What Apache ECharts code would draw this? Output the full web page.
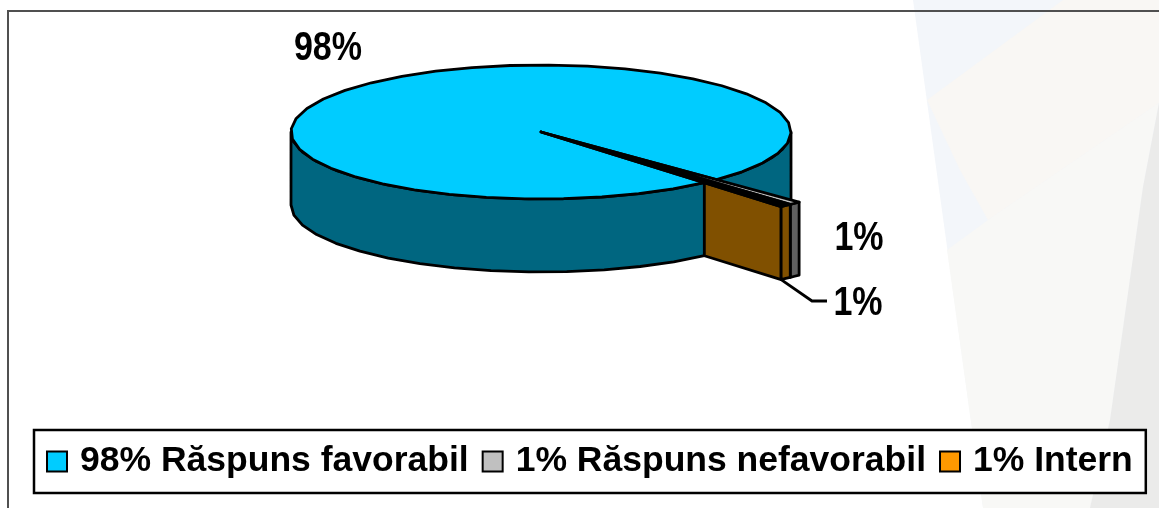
<!DOCTYPE html>
<html>
<head>
<meta charset="utf-8">
<style>
  html, body { margin: 0; padding: 0; background: #fff; }
  #chart { width: 1159px; height: 508px; }
</style>
<script src="https://cdn.jsdelivr.net/npm/echarts@6/dist/echarts.min.js"></script>
</head>
<body>
<div id="chart"></div>
<script>
var names = ['Răspuns favorabil', 'Răspuns nefavorabil', 'Intern'];
var values = [98, 1, 1];

var legendColors = ['#00ccff', '#c0c0c0', '#ff9900'];
var topColors = ['#00ccff', '#c0c0c0', '#000'];   // orange top is too thin to show, it reads as black
var wallColors = ['#006680', '#606060', '#805000'];

// ellipse of the pie, in pixels
var cx = 541, cy = 132, rx = 250, ry = 67, depth = 73;
var firstAngle = 49.2;   // where the big slice starts, clockwise from east
var sliver = 0.53;       // the small slices are drawn thinner than their real share
var explode = 1.47;      // small slices stick out of the rim

function sweep(i) {
  var small = 0;
  for (var n = 1; n < values.length; n++) small += values[n] * 3.6 * sliver;
  return i == 0 ? 360 - small : values[i] * 3.6 * sliver;
}
function startOf(i) {
  var a = firstAngle;
  for (var n = 0; n < i; n++) a += sweep(n);
  return a;
}
function pt(deg, r, down) {
  var t = deg * Math.PI / 180;
  return [cx + rx * r * Math.cos(t), cy + ry * r * Math.sin(t) + (down || 0)];
}
function arc(a, b, r, down) {
  // coarse steps, the original outline is faceted too
  var pts = [], steps = Math.max(2, Math.ceil(Math.abs(b - a) / 9));
  for (var n = 0; n <= steps; n++) pts.push(pt(a + (b - a) * n / steps, r, down));
  return pts;
}
function poly(points, fill, z) {
  return {
    type: 'polygon', z2: z,
    shape: { points: points },
    style: { fill: fill, stroke: '#000', lineWidth: 2.8, lineJoin: 'round' }
  };
}
function wall(a, b, r, fill, z) {
  return poly(arc(a, b, r, 0).concat(arc(a, b, r, depth).reverse()), fill, z);
}
function label(text, x, y) {
  // the picture is stretched upwards, so the glyphs are squeezed sideways
  return {
    type: 'text', z2: 20, x: x, y: y, scaleX: 0.83,
    style: { text: text, x: 0, y: 0, align: 'center', verticalAlign: 'middle',
      font: 'bold 41px "Liberation Sans", Arial, sans-serif', fill: '#000' }
  };
}

function renderSlice(params, api) {
  var i = params.seriesIndex;
  var a = startOf(i), b = a + sweep(i);
  var kids = [];
  if (i == 0) {
    // only the front half of the side wall can be seen
    kids.push(wall(firstAngle, 180, 1, wallColors[0], 1));
    kids.push(wall(0, b - 360, 1, wallColors[0], 1));
    kids.push(poly([[cx, cy]].concat(arc(a, b, 1, 0)), topColors[0], 2));
    kids.push(label(api.value(0) + '%', 328, 49));
  } else {
    var from = a % 360, to = b % 360;
    kids.push(wall(from, to, explode, wallColors[i], 5));
    // cut face of the slice, from the rim outwards
    var inner = pt(firstAngle, 1), outer = pt(firstAngle, explode);
    if (i == 2) {
      kids.push(poly([inner, outer, pt(firstAngle, explode, depth), pt(firstAngle, 1, depth)], wallColors[2], 4));
      kids.push({
        type: 'polyline', z2: 6,
        shape: { points: [pt(firstAngle, explode, depth), [812, 301], [827, 301]] },
        style: { fill: null, stroke: '#000', lineWidth: 2.8 }
      });
      kids.push(label(api.value(0) + '%', 858, 304));
    } else {
      kids.push(label(api.value(0) + '%', 859, 239));
    }
    kids.push(poly([[cx, cy]].concat(arc(from, to, explode, 0)), topColors[i], 7));
  }
  return { type: 'group', children: kids };
}

var legendNames = names.map(function (n, i) { return values[i] + '% ' + n; });

var bgShapes = [
  { pts: [[913, 0], [1159, 0], [1159, 508], [983, 508]], c: '#f3f6fa' },
  { pts: [[927, 100], [1063, 0], [1159, 0], [1159, 103], [988, 220], [960, 170]], c: '#f9f7f4' },
  { pts: [[947, 250], [988, 220], [1159, 103], [1143, 187], [1110, 420], [1090, 508], [983, 508]], c: '#f8f8f6' },
  { pts: [[1159, 103], [1143, 187], [1110, 420], [1090, 508], [1159, 508]], c: '#ebebea' }
];
var graphics = bgShapes.map(function (s) {
  return { type: 'polygon', silent: true, z: -10, shape: { points: s.pts }, style: { fill: s.c } };
});
// frame of the plot: only top and left are inside the picture
graphics.push({
  type: 'polyline', silent: true, z: -5,
  shape: { points: [[8, 508], [8, 11], [1159, 11]] },
  style: { fill: null, stroke: '#505050', lineWidth: 2 }
});

var chart = echarts.init(document.getElementById('chart'));
chart.setOption({
  animation: false,
  backgroundColor: '#fff',
  graphic: graphics,
  legend: {
    left: 34, top: 430,
    data: legendNames,
    orient: 'horizontal',
    padding: [11, 13, 11, 12],
    itemWidth: 20, itemHeight: 20, itemGap: 13,
    icon: 'rect',
    selectedMode: false,
    borderColor: '#000', borderWidth: 2.5,
    backgroundColor: '#fff',
    itemStyle: { borderColor: '#000', borderWidth: 2 },
    textStyle: { fontFamily: '"Liberation Sans", Arial, sans-serif', fontWeight: 'bold', fontSize: 35.5, color: '#000', padding: [3, 0, 0, 8], lineHeight: 38 }
  },
  series: values.map(function (v, i) {
    return {
      type: 'custom',
      name: legendNames[i],
      coordinateSystem: 'none',
      silent: true,
      itemStyle: { color: legendColors[i] },
      renderItem: renderSlice,
      data: [v]
    };
  })
});
</script>
</body>
</html>
